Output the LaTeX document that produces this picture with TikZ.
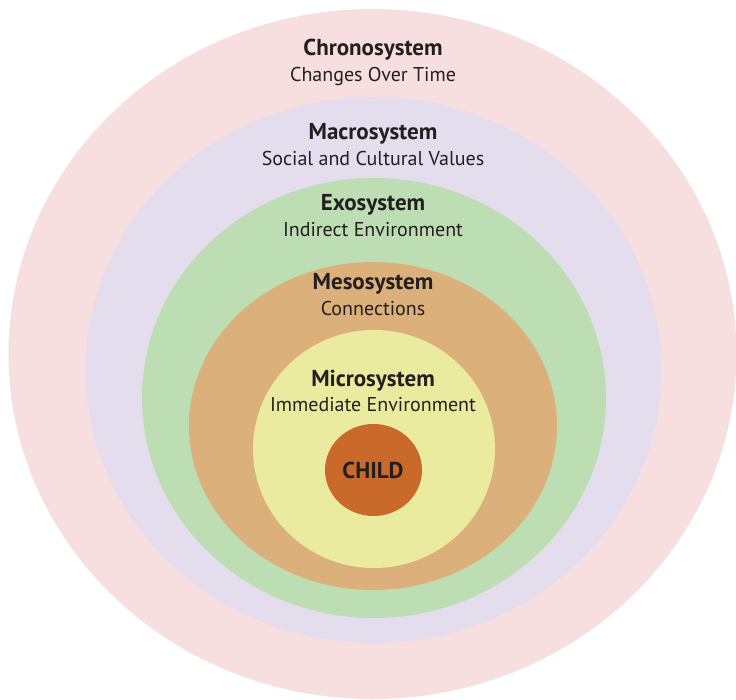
\documentclass[tikz,border=0pt]{standalone}
\usepackage{fontspec}
\setmainfont{PT Sans}
\definecolor{chrono}{HTML}{F7DEDF}
\definecolor{macro}{HTML}{E3DDED}
\definecolor{exo}{HTML}{BDDDB3}
\definecolor{meso}{HTML}{DCB07B}
\definecolor{micro}{HTML}{EBEB9F}
\definecolor{child}{HTML}{C96A2A}
\definecolor{ink}{HTML}{231F20}
\begin{document}
\begin{tikzpicture}[x=1pt,y=-1pt,
    title/.style={anchor=base,inner sep=0pt,text=ink,font=\fontsize{23}{23}\selectfont\bfseries},
    sub/.style={anchor=base,inner sep=0pt,text=ink,font=\fontsize{20}{20}\selectfont}]
        \useasboundingbox (0,0) rectangle (736,700);
        \fill[chrono] (372.5,354) ellipse (364 and 345);
        \fill[macro] (373.5,370) ellipse (288 and 273);
        \fill[exo] (374,398) ellipse (232 and 220);
        \fill[meso] (373,426) ellipse (184 and 164);
        \fill[micro] (374,449) ellipse (121 and 119);
        \fill[child] (373.5,470) ellipse (48.5 and 46);
        \node[title] (chronot) at (373,56) {Chronosystem};
        \node[sub] (chronos) at (373,82) {Changes Over Time};
        \node[title] (macrot) at (373,140) {Macrosystem};
        \node[sub] (macros) at (373,166) {Social and Cultural Values};
        \node[title] (exot) at (373,211) {Exosystem};
        \node[sub] (exos) at (373,237) {Indirect Environment};
        \node[title] (mesot) at (373,290) {Mesosystem};
        \node[sub] (mesos) at (373,316) {Connections};
        \node[title] (microt) at (373,386) {Microsystem};
        \node[sub] (micros) at (373,411) {Immediate Environment};
        \node[title] (childt) at (373,478) {CHILD};
    \end{tikzpicture}
\end{document}
